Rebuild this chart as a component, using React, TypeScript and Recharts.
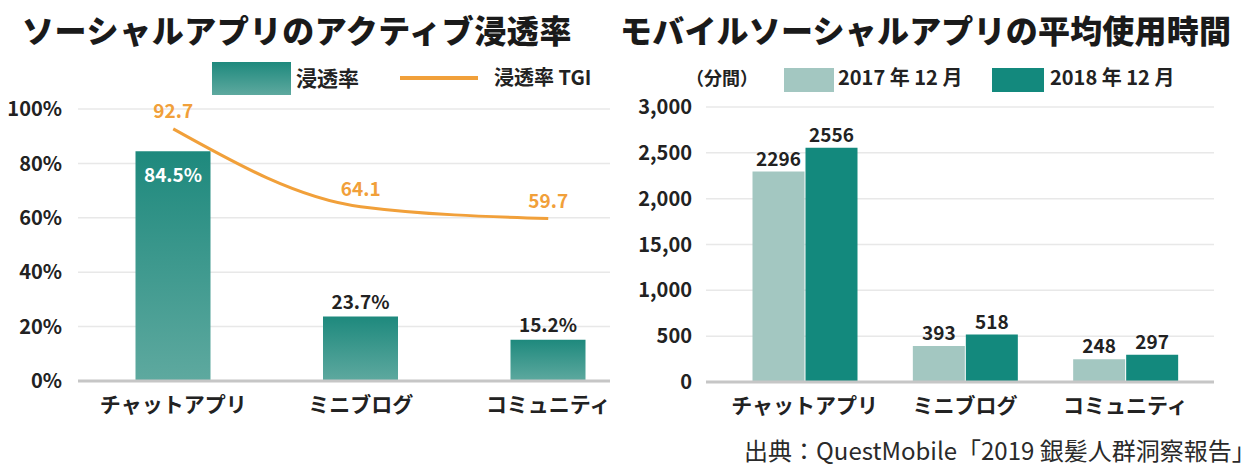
import React from 'react';
import { ComposedChart, BarChart, Bar, Line, XAxis, YAxis, CartesianGrid, LabelList } from 'recharts';

const leftTitle = 'ソーシャルアプリのアクティブ浸透率';
const rightTitle = 'モバイルソーシャルアプリの平均使用時間';
const categories = ['チャットアプリ', 'ミニブログ', 'コミュニティ'];
const penetration = [84.5, 23.7, 15.2];
const tgi = [92.7, 64.1, 59.7];
const leftTicks = [0, 20, 40, 60, 80, 100];
const usage2017 = [2296, 393, 248];
const usage2018 = [2556, 518, 297];
const rightTicks = [0, 500, 1000, 1500, 2000, 2500, 3000];
const rightTickLabels = ['0', '500', '1,000', '15,00', '2,000', '2,500', '3,000'];
const leftLegend = ['浸透率', '浸透率 TGI'];
const rightLegend = ['2017 年 12 月', '2018 年 12 月'];
const unitLabel = '（分間）';
const sourceText = '出典：QuestMobile「2019 銀髪人群洞察報告」';

const leftData = categories.map((c, i) => ({ name: c, rate: penetration[i], tgi: tgi[i] }));
const rightData = categories.map((c, i) => ({ name: c, y2017: usage2017[i], y2018: usage2018[i] }));

const FONT = '"Noto Sans CJK JP", "Noto Sans", sans-serif';
const TEXT = '#222';
const TEAL = '#13897d';
const LIGHT = '#a3c7c1';
const ORANGE = '#f1a03a';

const RateLabel = (props: any) => {
  const { x, y, width, value } = props;
  const inside = value > 50;
  return (
    <text
      x={x + width / 2}
      y={inside ? y + 31 : y - 8}
      textAnchor="middle"
      fill={inside ? '#ffffff' : TEXT}
      fontSize={19}
      fontWeight={700}
      fontFamily={FONT}
    >
      {value}%
    </text>
  );
};

export default function App() {
  return (
    <div style={{ position: 'absolute', left: 0, top: 0, width: 1257, height: 466, background: '#fff', fontFamily: FONT, overflow: 'hidden' }}>
      <div style={{ position: 'absolute', left: 0, top: 0 }}>
        <ComposedChart width={660} height={466} data={leftData} margin={{ top: 109, right: 50, bottom: 45, left: 8 }}>
          <defs>
            <linearGradient id="tealGrad" x1="0" y1="0" x2="0" y2="1">
              <stop offset="0%" stopColor="#1e897d" />
              <stop offset="100%" stopColor="#5ea99f" />
            </linearGradient>
          </defs>
          <CartesianGrid vertical={false} stroke="#e8e8e8" strokeWidth={1.5} />
          <XAxis
            dataKey="name"
            height={40}
            padding={{ left: 1.5, right: -32 }}
            axisLine={{ stroke: '#c6c6c6', strokeWidth: 3 }}
            tickLine={false}
            tickSize={0}
            tickMargin={16}
            tick={{ fill: TEXT, fontSize: 21, fontWeight: 700, fontFamily: FONT }}
            interval={0}
          />
          <YAxis
            width={70}
            domain={[0, 100]}
            ticks={leftTicks}
            tickFormatter={(v: number) => `${v}%`}
            axisLine={false}
            tickLine={false}
            tickSize={0}
            tickMargin={16}
            tick={{ fill: TEXT, fontSize: 20, fontWeight: 700, fontFamily: FONT }}
          />
          <Bar dataKey="rate" fill="url(#tealGrad)" barSize={75} isAnimationActive={false}>
            <LabelList dataKey="rate" content={RateLabel} />
          </Bar>
          <Line
            dataKey="tgi"
            type="monotone"
            stroke={ORANGE}
            strokeWidth={3}
            dot={false}
            isAnimationActive={false}
          >
            <LabelList dataKey="tgi" position="top" offset={11} fill={ORANGE} fontSize={19} fontWeight={700} fontFamily={FONT} />
          </Line>
        </ComposedChart>
      </div>

      <div style={{ position: 'absolute', left: 620, top: 0 }}>
        <BarChart width={637} height={466} data={rightData} margin={{ top: 107, right: 43, bottom: 44, left: 16 }} barGap={1}>
          <CartesianGrid vertical={false} stroke="#e8e8e8" strokeWidth={1.5} />
          <XAxis
            dataKey="name"
            height={40}
            padding={{ left: 18.5, right: 8.5 }}
            axisLine={{ stroke: '#c6c6c6', strokeWidth: 3 }}
            tickLine={false}
            tickSize={0}
            tickMargin={16}
            tick={{ fill: TEXT, fontSize: 21, fontWeight: 700, fontFamily: FONT }}
            interval={0}
          />
          <YAxis
            width={70}
            domain={[0, 3000]}
            ticks={rightTicks}
            tickFormatter={(v: number) => rightTickLabels[rightTicks.indexOf(v)]}
            axisLine={false}
            tickLine={false}
            tickSize={0}
            tickMargin={14}
            tick={{ fill: TEXT, fontSize: 20, fontWeight: 700, fontFamily: FONT }}
          />
          <Bar dataKey="y2017" fill={LIGHT} barSize={52} isAnimationActive={false}>
            <LabelList dataKey="y2017" position="top" offset={6} fill={TEXT} fontSize={19} fontWeight={700} fontFamily={FONT} />
          </Bar>
          <Bar dataKey="y2018" fill={TEAL} barSize={52} isAnimationActive={false}>
            <LabelList dataKey="y2018" position="top" offset={6} fill={TEXT} fontSize={19} fontWeight={700} fontFamily={FONT} />
          </Bar>
        </BarChart>
      </div>

      <div style={{ position: 'absolute', left: 22, top: 11, fontSize: 32, fontWeight: 900, lineHeight: '36px', color: '#1a1a1a', letterSpacing: 0.6, whiteSpace: 'nowrap' }}>{leftTitle}</div>
      <div style={{ position: 'absolute', left: 620, top: 11, fontSize: 32, fontWeight: 900, lineHeight: '36px', color: '#1a1a1a', letterSpacing: 0.2, whiteSpace: 'nowrap' }}>{rightTitle}</div>

      <div style={{ position: 'absolute', left: 212, top: 62, width: 79, height: 33, background: 'linear-gradient(#1e897d, #5ea99f)' }} />
      <div style={{ position: 'absolute', left: 296, top: 65, fontSize: 21, fontWeight: 700, lineHeight: '24px', color: TEXT, whiteSpace: 'nowrap' }}>{leftLegend[0]}</div>
      <div style={{ position: 'absolute', left: 400, top: 76, width: 78, height: 4, background: ORANGE }} />
      <div style={{ position: 'absolute', left: 494, top: 65, fontSize: 20, fontWeight: 700, lineHeight: '24px', color: TEXT, whiteSpace: 'nowrap' }}>{leftLegend[1]}</div>

      <div style={{ position: 'absolute', left: 686, top: 66, fontSize: 18, fontWeight: 700, lineHeight: '22px', color: TEXT, whiteSpace: 'nowrap' }}>{unitLabel}</div>
      <div style={{ position: 'absolute', left: 784, top: 68, width: 50, height: 24, background: LIGHT }} />
      <div style={{ position: 'absolute', left: 838, top: 66, fontSize: 20, fontWeight: 700, lineHeight: '22px', color: TEXT, whiteSpace: 'nowrap' }}>{rightLegend[0]}</div>
      <div style={{ position: 'absolute', left: 992, top: 68, width: 52, height: 24, background: TEAL }} />
      <div style={{ position: 'absolute', left: 1050, top: 66, fontSize: 20, fontWeight: 700, lineHeight: '22px', color: TEXT, whiteSpace: 'nowrap' }}>{rightLegend[1]}</div>

      <div style={{ position: 'absolute', left: 744, top: 436, fontSize: 24, fontWeight: 400, lineHeight: '28px', color: '#2a2a2a', whiteSpace: 'nowrap' }}>{sourceText}</div>
    </div>
  );
}
